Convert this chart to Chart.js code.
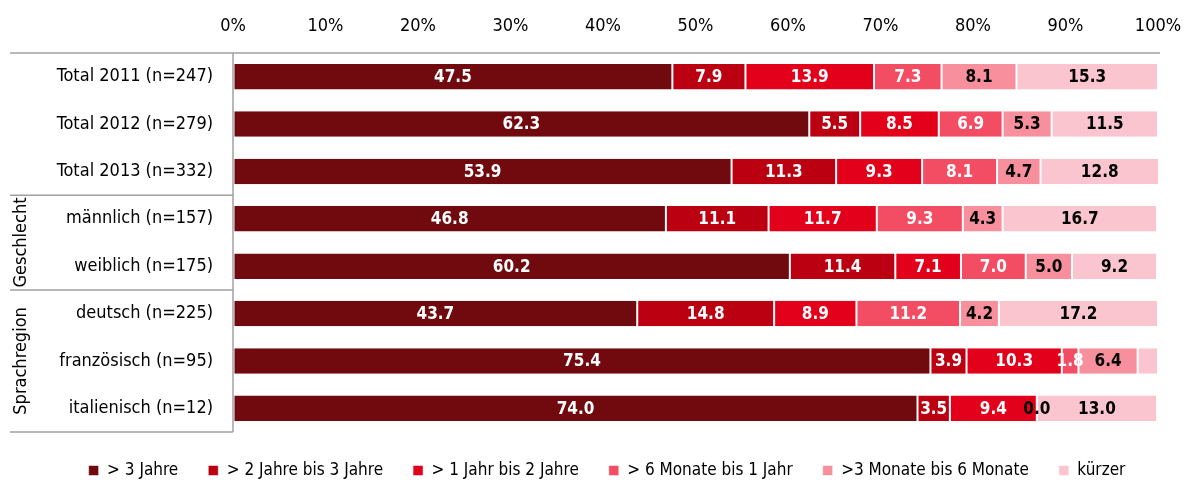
<!DOCTYPE html>
<html>
<head>
<meta charset="utf-8">
<script src="https://cdn.jsdelivr.net/npm/chart.js@4/dist/chart.umd.min.js"></script>
<style>
body { margin: 0; background: #fff; }
#wrap { width: 1184px; height: 482px; }
</style>
</head>
<body>
<div id="wrap"><canvas id="chart"></canvas></div>
<script>
var categories = ['Total 2011 (n=247)', 'Total 2012 (n=279)', 'Total 2013 (n=332)',
    'männlich (n=157)', 'weiblich (n=175)',
    'deutsch (n=225)', 'französisch (n=95)', 'italienisch (n=12)'];
var seriesNames = ['> 3 Jahre', '> 2 Jahre bis 3 Jahre', '> 1 Jahr bis 2 Jahre',
    '> 6 Monate bis 1 Jahr', '>3 Monate bis 6 Monate', 'kürzer'];
var over3Years   = [47.5, 62.3, 53.9, 46.8, 60.2, 43.7, 75.4, 74.0];
var years2to3    = [7.9, 5.5, 11.3, 11.1, 11.4, 14.8, 3.9, 3.5];
var years1to2    = [13.9, 8.5, 9.3, 11.7, 7.1, 8.9, 10.3, 9.4];
var months6to12  = [7.3, 6.9, 8.1, 9.3, 7.0, 11.2, 1.8, null];
var months3to6   = [8.1, 5.3, 4.7, 4.3, 5.0, 4.2, 6.4, 0.0];
var shorter      = [15.3, 11.5, 12.8, 16.7, 9.2, 17.2, 2.2, 13.0];
var xTicks = [0, 10, 20, 30, 40, 50, 60, 70, 80, 90, 100];
// category groups shown as rotated labels on the left
var groupNames = ['Geschlecht', 'Sprachregion'];
var groupFrom = [3, 5];
var groupTo = [4, 7];
// series index + category index whose label is not printed
var hiddenLabels = ['5-6'];

var colors = ['#700a0e', '#bb0011', '#e3001b', '#f24d63', '#f7909c', '#fac5ce'];
var labelColors = ['#fff', '#fff', '#fff', '#fff', '#000', '#000'];
var fontFamily = "'Liberation Sans Narrow', 'Arial Narrow', 'DejaVu Sans Condensed', sans-serif";
var allSeries = [over3Years, years2to3, years1to2, months6to12, months3to6, shorter];

var datasets = [];
for (var i = 0; i < allSeries.length; i++) {
    datasets.push({
        label: seriesNames[i],
        data: allSeries[i],
        backgroundColor: colors[i],
        borderColor: '#fff',
        borderWidth: {left: 1, right: 1, top: 0, bottom: 0},
        borderSkipped: false,
        barPercentage: 0.54,
        categoryPercentage: 1.0
    });
}

var tablePlugin = {
    id: 'tableLines',
    afterDatasetsDraw: function(chart) {
        var ctx = chart.ctx;
        ctx.save();
        ctx.font = 'bold 17px ' + fontFamily;
        ctx.textAlign = 'center';
        ctx.textBaseline = 'middle';
        chart.data.datasets.forEach(function(ds, di) {
            var meta = chart.getDatasetMeta(di);
            meta.data.forEach(function(bar, ci) {
                var v = ds.data[ci];
                if (v === null || hiddenLabels.indexOf(di + '-' + ci) >= 0) return;
                ctx.fillStyle = labelColors[di];
                ctx.fillText(v.toFixed(1), (bar.x + bar.base) / 2, bar.y + 1);
            });
        });
        ctx.restore();
    },
    afterDraw: function(chart) {
        var ctx = chart.ctx, a = chart.chartArea, y = chart.scales.y;
        ctx.save();
        ctx.strokeStyle = '#a0a0a0';
        ctx.lineWidth = 1.5;
        var line = function(x1, y1, x2, y2) {
            ctx.beginPath(); ctx.moveTo(x1, y1); ctx.lineTo(x2, y2); ctx.stroke();
        };
        line(10, a.top, a.right + 2, a.top);
        line(10, a.bottom, a.left, a.bottom);
        line(a.left, a.top, a.left, a.bottom);
        ctx.font = '18px ' + fontFamily;
        ctx.fillStyle = '#000';
        ctx.textAlign = 'center';
        ctx.textBaseline = 'middle';
        for (var g = 0; g < groupNames.length; g++) {
            var top = (y.getPixelForValue(groupFrom[g] - 1) + y.getPixelForValue(groupFrom[g])) / 2;
            var bottom = groupTo[g] < categories.length - 1 ?
                (y.getPixelForValue(groupTo[g]) + y.getPixelForValue(groupTo[g] + 1)) / 2 : a.bottom;
            line(10, top, a.left, top);
            ctx.save();
            ctx.translate(21, (top + bottom) / 2);
            ctx.rotate(-Math.PI / 2);
            ctx.fillText(groupNames[g], 0, 0);
            ctx.restore();
        }
        ctx.restore();
    }
};

new Chart(document.getElementById('chart'), {
    type: 'bar',
    data: {labels: categories, datasets: datasets},
    options: {
        indexAxis: 'y',
        responsive: true,
        maintainAspectRatio: false,
        animation: false,
        layout: {padding: {left: 56, right: 26, top: 0, bottom: -7}},
        scales: {
            x: {
                position: 'top',
                stacked: true,
                min: 0,
                max: 100,
                afterBuildTicks: function(scale) {
                    scale.ticks = xTicks.map(function(v) { return {value: v}; });
                },
                afterFit: function(scale) { scale.height = 53; },
                grid: {display: true, drawOnChartArea: false, drawTicks: true,
                       tickLength: 16, tickColor: 'rgba(0,0,0,0)'},
                border: {display: false},
                ticks: {
                    color: '#000',
                    padding: 0,
                    font: {family: fontFamily, size: 18},
                    callback: function(v) { return v + '%'; }
                }
            },
            y: {
                stacked: true,
                afterFit: function(scale) { scale.width = 177; },
                grid: {display: false, drawTicks: false},
                border: {display: false},
                ticks: {
                    color: '#000',
                    padding: 20,
                    font: {family: fontFamily, size: 18}
                }
            }
        },
        plugins: {
            legend: {
                position: 'bottom',
                labels: {
                    color: '#000',
                    boxWidth: 10,
                    boxHeight: 10,
                    padding: 30,
                    font: {family: fontFamily, size: 17}
                }
            },
            tooltip: {enabled: false}
        }
    },
    plugins: [tablePlugin]
});
</script>
</body>
</html>
